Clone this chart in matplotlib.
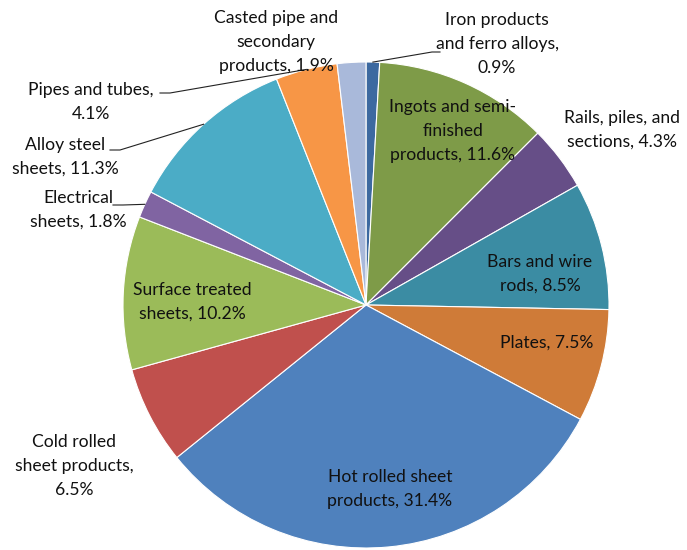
import numpy as np
import matplotlib.pyplot as plt

# steel product shares, clockwise from 12 o'clock
labels = ['Iron products\nand ferro alloys,', 'Ingots and semi-\nfinished\nproducts,',
          'Rails, piles, and\nsections,', 'Bars and wire\nrods,', 'Plates,',
          'Hot rolled sheet\nproducts,', 'Cold rolled\nsheet products,',
          'Surface treated\nsheets,', 'Electrical\nsheets,', 'Alloy steel\nsheets,',
          'Pipes and tubes,', 'Casted pipe and\nsecondary\nproducts,']
shares = [0.9, 11.6, 4.3, 8.5, 7.5, 31.4, 6.5, 10.2, 1.8, 11.3, 4.1, 1.9]
colors = ['#3c69a0', '#7e9b48', '#664e87', '#3b8ca3', '#cf7b38', '#4f81bd',
          '#c0504d', '#9bbb59', '#8064a2', '#4bacc6', '#f79646', '#a9b9da']

W, H = 687, 550
CX, CY, R = 366, 305, 243

# label centres in pixel space (y down) and line break for the value
label_pos = [(497, 44), (453, 131), (622, 130), (540, 274), (547, 343),
             (390, 489), (74, 466), (192, 302), (78, 210), (65, 157),
             (91, 102), (276, 42)]
value_sep = ['\n', ' ', ' ', ' ', ' ', ' ', '\n', ' ', ' ', ' ', '\n', ' ']
# leader lines: slice index -> label-side anchor (pixels)
leaders = {0: (440, 52), 8: (113, 205), 9: (110, 150), 10: (160, 93)}

plt.rcParams['font.family'] = ['Lato', 'DejaVu Sans']
fig = plt.figure(figsize=(W / 100, H / 100), dpi=100)
ax = fig.add_axes([0, 0, 1, 1])

wedges, _ = ax.pie(shares, colors=colors, startangle=90, counterclock=False,
                   center=(CX, H - CY), radius=R,
                   wedgeprops=dict(edgecolor='white', linewidth=0.8))
# pie() resets the limits, so set the pixel frame afterwards
ax.set_xlim(0, W)
ax.set_ylim(0, H)
ax.set_aspect('equal')
ax.axis('off')

for i, (lab, val) in enumerate(zip(labels, shares)):
    x, y = label_pos[i]
    ax.text(x, H - y, f'{lab}{value_sep[i]}{val}%', ha='center', va='center',
            fontsize=12.6, linespacing=1.62, color='#111111')

for i, (ax0, ay0) in leaders.items():
    w = wedges[i]
    mid = np.deg2rad((w.theta1 + w.theta2) / 2)
    ex, ey = CX + R * np.cos(mid), (H - CY) + R * np.sin(mid)
    knee = ax0 + (10 if ax0 < CX else -8)
    ax.plot([ax0, knee, ex], [H - ay0, H - ay0, ey], color='#222222', lw=0.8)

fig.savefig('out.png', dpi=100)
